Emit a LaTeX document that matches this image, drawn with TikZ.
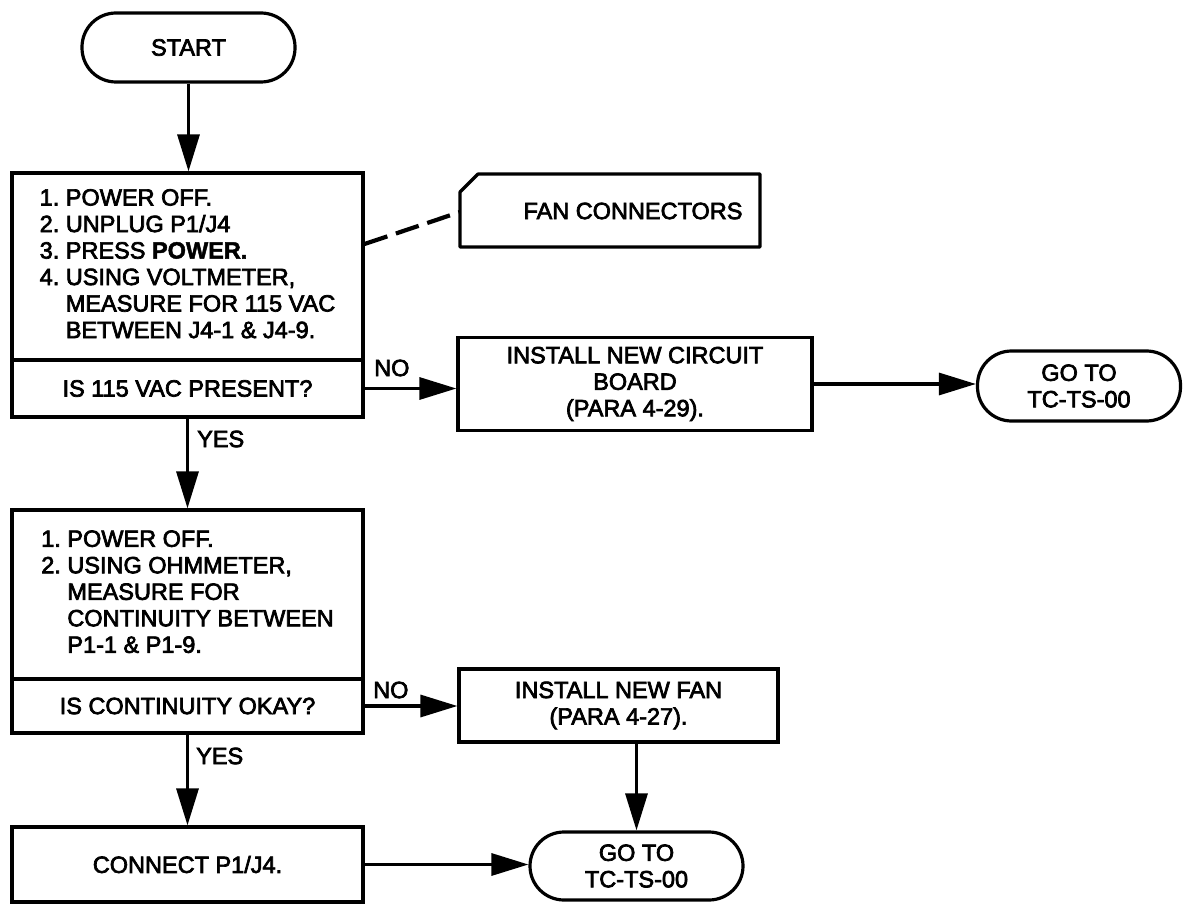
\documentclass[tikz,border=0pt]{standalone}
\usepackage{fontspec}
\setmainfont{Liberation Sans}
\newfontfamily\medfont{Liberation Sans}[FakeBold=3]
\newfontfamily\heavyfont{Liberation Sans Bold}[FakeBold=2]
\usetikzlibrary{arrows.meta,calc}
\begin{document}
\begin{tikzpicture}[x=1pt,y=-1pt,
  every node/.style={font=\medfont\fontsize{23.5}{26.5}\selectfont, inner sep=0pt},
  box/.style={draw, line width=3.2pt, rectangle, align=center},
  term/.style={draw, line width=3.2pt, rounded corners=34pt, align=center},
  arr/.style={line width=3.2pt, -{Triangle[length=37pt,width=22pt]}},
  lbl/.style={anchor=west}]
\useasboundingbox (0,0) rectangle (1183,904);
% start
\node[term, minimum width=213pt, minimum height=69pt] (start) at (188.5,47.5) {START};
% first block
\node[box, minimum width=351pt, minimum height=187pt] (s1) at (187.5,266.5)
  {\begin{tabular}{@{}l@{\ }l@{}}1. & POWER OFF.\\ 2. & UNPLUG P1/J4\\ 3. & PRESS {\heavyfont POWER.}\\ 4. & USING VOLTMETER,\\ & MEASURE FOR 115 VAC\\ & BETWEEN J4-1 \& J4-9.\end{tabular}};
\node[box, minimum width=351pt, minimum height=57pt] (q1) at (187.5,388.5) {IS 115 VAC PRESENT?};
% fan connectors callout
\draw[line width=3.2pt, line join=round] (460,192) -- (478,174) -- (760,174) -- (760,247) -- (460,247) -- cycle;
\node (fan) at (633,211) {FAN CONNECTORS};
\coordinate (fanL) at (460,212);
\draw[line width=4.2pt, dash pattern=on 24pt off 9pt] ([yshift=22.5pt]s1.east) -- (fanL);
% circuit board branch
\node[box, minimum width=354pt, minimum height=93pt] (cb) at (635,384)
  {INSTALL NEW CIRCUIT\\BOARD\\(PARA 4-29).};
\node[term, minimum width=203pt, minimum height=70pt] (go1) at (1079,386) {GO TO\\TC-TS-00};
\node[lbl] (no1) at (374,368) {NO};
\node[lbl] (yes1) at (197,439) {YES};
% second block
\node[box, minimum width=351pt, minimum height=169pt] (s2) at (187.5,594.5)
  {\begin{tabular}{@{}l@{\ }l@{}}1. & POWER OFF.\\ 2. & USING OHMMETER,\\ & MEASURE FOR\\ & CONTINUITY BETWEEN\\ & P1-1 \& P1-9.\end{tabular}};
\node[box, minimum width=351pt, minimum height=54pt] (q2) at (187.5,706) {IS CONTINUITY OKAY?};
\node[box, minimum width=319pt, minimum height=73pt] (fan2) at (618.5,705.5) {INSTALL NEW FAN\\(PARA 4-27).};
\node[lbl] (no2) at (373,690) {NO};
\node[lbl] (yes2) at (196,756) {YES};
% last row
\node[box, minimum width=351pt, minimum height=75pt] (s3) at (187.5,864.5) {CONNECT P1/J4.};
\node[term, minimum width=213pt, minimum height=68pt] (go2) at (636.5,866) {GO TO\\TC-TS-00};
% connectors
\draw[arr] (start.south) -- (start.south |- s1.north);
\draw[arr] (q1.east) -- (q1.east -| cb.west);
\draw[arr] (cb.east) -- (cb.east -| go1.west);
\draw[arr] (q1.south) -- (s2.north);
\draw[arr] (q2.east) -- (q2.east -| fan2.west);
\draw[arr] (go2.north |- fan2.south) -- (go2.north);
\draw[arr] (q2.south) -- (s3.north);
\draw[arr] (s3.east) -- (s3.east -| go2.west);
\end{tikzpicture}
\end{document}
